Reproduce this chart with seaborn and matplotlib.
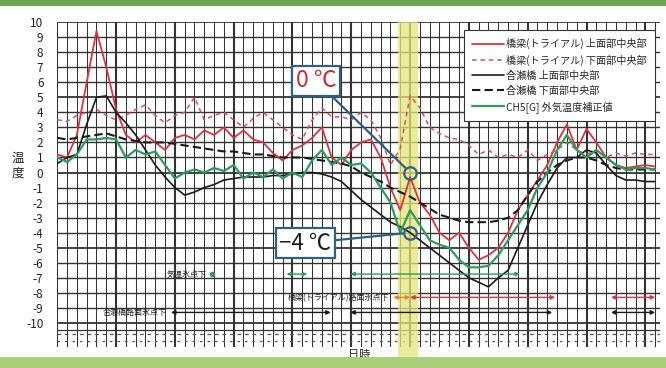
import numpy as np
import pandas as pd
import matplotlib
matplotlib.use("Agg")
import matplotlib.pyplot as plt
from matplotlib.patches import Rectangle
import seaborn as sns

# ---------------- data ----------------
hours = list(range(62))

red_top = [1.2, 1.0, 2.5, 6.0, 9.4, 7.0, 4.2, 2.5, 2.0, 2.5, 2.0, 1.5, 2.3, 2.5, 2.2, 2.8,
           2.5, 3.0, 2.3, 2.8, 2.2, 2.0, 1.3, 0.8, 1.5, 1.8, 2.3, 3.0, 1.0, 0.5, 1.5, 2.0,
           2.2, 1.0, -1.0, -2.5, -0.3, -2.0, -2.8, -4.0, -4.5, -4.0, -5.0, -5.8, -5.5, -5.0,
           -4.0, -2.5, -1.5, -0.5, 0.5, 2.0, 3.2, 1.5, 2.9, 2.0, 1.0, 0.5, 0.3, 0.4, 0.5, 0.4]
red_bottom = [3.5, 3.4, 3.8, 4.0, 4.2, 3.8, 3.5, 3.8, 4.2, 4.5, 3.8, 3.3, 3.8, 4.0, 5.0, 3.5,
              3.8, 4.0, 3.5, 3.0, 3.6, 4.0, 3.5, 3.0, 2.5, 2.2, 3.5, 4.3, 3.7, 3.7, 3.5, 4.0,
              3.5, 2.3, 0.5, 1.6, 5.1, 4.3, 3.0, 2.6, 2.3, 2.2, 1.8, 1.2, 1.5, 1.0, 1.2, 1.0,
              1.5, 0.8, 1.2, 1.5, 2.0, 1.5, 1.2, 1.5, 1.0, 1.3, 1.1, 1.3, 1.2, 1.2]
blk_top = [0.6, 1.0, 1.2, 3.2, 5.0, 5.1, 4.0, 3.3, 2.5, 1.5, 0.5, -0.3, -1.0, -1.5, -1.3, -1.0,
           -0.8, -0.5, -0.4, -0.3, -0.3, -0.3, -0.2, -0.2, -0.1, 0.0, 0.0, -0.1, -0.3, -0.6,
           -1.2, -1.8, -2.3, -2.8, -3.3, -3.6, -4.0, -4.5, -5.0, -5.5, -6.0, -6.5, -7.0, -7.3,
           -7.6, -7.0, -6.5, -5.0, -3.5, -2.0, -0.8, 0.3, 1.0, 1.0, 1.5, 1.3, 0.5, -0.2, -0.5,
           -0.5, -0.6, -0.6]
blk_bottom = [2.3, 2.2, 2.3, 2.4, 2.5, 2.6, 2.4, 2.2, 2.1, 2.0, 2.0, 2.0, 1.9, 1.8, 1.7, 1.6,
              1.5, 1.4, 1.4, 1.3, 1.2, 1.2, 1.1, 1.0, 1.0, 1.0, 0.9, 0.8, 0.7, 0.6, 0.4, 0.0,
              -0.3, -0.6, -1.0, -1.3, -1.6, -2.0, -2.4, -2.8, -3.0, -3.2, -3.3, -3.3, -3.3,
              -3.2, -3.0, -2.5, -1.5, -0.6, 0.0, 0.5, 0.8, 1.0, 1.0, 0.8, 0.5, 0.3, 0.2, 0.2,
              0.2, 0.2]
air_temp = [1.0, 0.7, 1.2, 2.2, 2.2, 2.3, 2.2, 1.0, 1.5, 1.2, 1.4, 0.5, -0.4, 0.0, 0.2, 0.0,
            0.3, 0.1, 0.5, -0.4, 0.0, -0.3, 0.2, -0.4, 0.0, -0.3, 0.8, 1.5, 0.5, 1.0, 0.5, 0.6,
            0.0, -1.0, -2.0, -4.0, -2.5, -3.5, -4.5, -4.8, -5.0, -5.8, -6.3, -6.3, -6.2, -5.5,
            -4.5, -3.5, -2.5, -1.0, 0.0, 1.5, 2.5, 1.5, 1.0, 1.5, 1.0, 0.5, 0.2, 0.3, 0.3, 0.2]

series_names = ["橋梁(トライアル) 上面部中央部", "橋梁(トライアル) 下面部中央部",
                "合瀬橋 上面部中央部", "合瀬橋 下面部中央部", "CH5[G] 外気温度補正値"]
series_values = [red_top, red_bottom, blk_top, blk_bottom, air_temp]

yticks = list(range(-10, 11))

# freezing periods (hour index ranges)
air_freeze = [(23.4, 25.5), (29.9, 47.2)]
air_freeze_dot = 15.8
trial_freeze_early = (34.3, 36.0)
trial_freeze = [(36.0, 50.8), (56.5, 61.0)]
aise_freeze = [(11.6, 27.9), (29.9, 50.5), (56.5, 61.0)]

highlight = (34.8, 36.8)
mark_hour = 36.0
mark_values = [0, -4]

# ---------------- style ----------------
sns.set_style("white")
plt.rcParams['font.family'] = ['Noto Sans CJK JP', 'DejaVu Sans']
plt.rcParams['axes.unicode_minus'] = True

fig = plt.figure(figsize=(6.66, 3.68), dpi=100)
ax = fig.add_axes([0.086, 0.057, 0.905, 0.883])

ymin, ymax = -11.6, 10
xmin, xmax = 0, 61.5
ax.set_xlim(xmin, xmax)
ax.set_ylim(ymin, ymax)

# grid
for h in np.arange(0, 62, 1):
    lw = 1.5 if h % 6 == 0 else 0.75
    ax.axvline(h, color="#333333", lw=lw, zorder=0.5)
for v in yticks:
    ax.axhline(v, color="#333333", lw=1.0 if v % 5 else 1.3, zorder=0.5)
ax.axhline(-10.45, color="#333333", lw=0.9, zorder=0.5)
ax.axhline(-10.75, color="#555555", lw=0.9, ls=(0, (3, 3)), zorder=0.5)
ax.axhline(-11.2, color="#555555", lw=0.9, ls=(0, (2, 4)), zorder=0.5)

# highlight band
ax.add_patch(Rectangle((highlight[0], ymin - 0.7), highlight[1] - highlight[0], ymax - ymin + 0.7,
                       facecolor="#e4e67a", alpha=0.75, edgecolor="none", zorder=1, clip_on=False))

df = pd.DataFrame({"hour": hours})
for n, v in zip(series_names, series_values):
    df[n] = v

colors = ["#d9343f", "#d9505a", "#1a1a1a", "#1a1a1a", "#2e9a5c"]
styles = ["-", (0, (3, 2.5)), "-", (0, (4, 2)), "-"]
widths = [1.3, 1.1, 1.2, 1.5, 1.6]
for n, c, s, w in zip(series_names, colors, styles, widths):
    sns.lineplot(data=df, x="hour", y=n, ax=ax, color=c, lw=w, linestyle=s, label=n, zorder=3)

# freezing arrows
def dbl(ax, a, b, y, color):
    ax.annotate("", xy=(b, y), xytext=(a, y),
                arrowprops=dict(arrowstyle="<|-|>", color=color, lw=1.0,
                                mutation_scale=6, shrinkA=0, shrinkB=0), zorder=4)

ya, yt, yb = -6.75, -8.3, -9.3
ax.plot([air_freeze_dot], [ya], marker="o", ms=3, color="#2e9a5c", zorder=4)
for a, b in air_freeze:
    dbl(ax, a, b, ya, "#2e9a5c")
ax.text(air_freeze_dot - 0.6, ya, "気温氷点下", fontsize=5.8, ha="right", va="center", color="#222")
dbl(ax, trial_freeze_early[0], trial_freeze_early[1], yt, "#e08a20")
for a, b in trial_freeze:
    dbl(ax, a, b, yt, "#d9343f")
ax.text(trial_freeze_early[0] - 0.4, yt, "橋梁(トライアル)路面氷点下", fontsize=5.8, ha="right",
        va="center", color="#222")
for a, b in aise_freeze:
    dbl(ax, a, b, yb, "#1a1a1a")
ax.text(aise_freeze[0][0] - 0.4, yb, "合瀬橋路面氷点下", fontsize=5.8, ha="right", va="center",
        color="#222")

# markers and call-out boxes
box_color = "#2f5f82"
ax.plot([mark_hour] * len(mark_values), mark_values, marker="o", ms=9, mfc="none",
        mec=box_color, mew=1.6, ls="none", zorder=6)
ax.annotate("0 ℃", xy=(mark_hour, mark_values[0]), xytext=(26.4, 6.1), fontsize=16.5,
            color="#c23030", ha="center", va="center",
            bbox=dict(boxstyle="square,pad=0.15", fc="white", ec=box_color, lw=1.6),
            arrowprops=dict(arrowstyle="-", color=box_color, lw=1.6, shrinkA=0, shrinkB=5),
            zorder=7)
ax.annotate("−4 ℃", xy=(mark_hour, mark_values[1]), xytext=(25.3, -4.7), fontsize=16,
            color="#1a1a1a", ha="center", va="center",
            bbox=dict(boxstyle="square,pad=0.15", fc="white", ec=box_color, lw=1.6),
            arrowprops=dict(arrowstyle="-", color=box_color, lw=1.6, shrinkA=0, shrinkB=5),
            zorder=7)

# axes labels
ax.set_yticks(yticks)
ax.set_yticklabels([str(t) for t in yticks], fontsize=8.5, color="#222")
ax.tick_params(axis="y", length=0, pad=10)
ax.set_xticks([])
ax.set_xlabel("日時", fontsize=8, labelpad=2)
ax.set_ylabel("")
fig.text(0.027, 0.55, "温\n度", fontsize=9, ha="center", va="center", linespacing=1.1)
for sp in ax.spines.values():
    sp.set_visible(False)

leg = ax.legend(loc="upper right", bbox_to_anchor=(0.992, 0.975), fontsize=7.3, frameon=True,
                fancybox=False, edgecolor="#333", framealpha=1, handlelength=3.2,
                handletextpad=0.2, labelspacing=0.5, borderpad=0.8, borderaxespad=0)
leg.get_frame().set_linewidth(0.8)
leg.set_zorder(8)

# frame decoration
fig.patches.append(Rectangle((0, 0.985), 1, 0.015, transform=fig.transFigure,
                             facecolor="#6aa84f", edgecolor="none"))
fig.patches.append(Rectangle((0, 0), 1, 0.03, transform=fig.transFigure,
                             facecolor="#a9cf7a", edgecolor="none"))

fig.savefig("out.png", dpi=100)
